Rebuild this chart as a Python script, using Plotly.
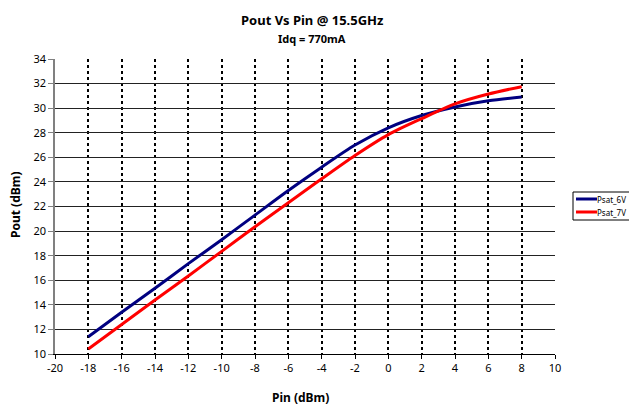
import plotly.graph_objects as go

pin = [-18, -16, -14, -12, -10, -8, -6, -4, -2, 0, 2, 4, 6, 8]
psat_6v = [11.4, 13.4, 15.35, 17.35, 19.3, 21.3, 23.3, 25.2, 27.0, 28.4, 29.4, 30.1, 30.6, 30.9]
psat_7v = [10.4, 12.4, 14.4, 16.35, 18.35, 20.35, 22.3, 24.25, 26.15, 27.85, 29.15, 30.35, 31.15, 31.75]
series_names = ["Psat_6V", "Psat_7V"]
series_colors = ["#000080", "#FF0000"]

x_ticks = list(range(-20, 11, 2))
y_ticks = list(range(10, 35, 2))

title1 = "Pout Vs Pin @ 15.5GHz"
title2 = "Idq = 770mA"
x_title = "Pin (dBm)"
y_title = "Pout (dBm)"

# page body has an 8px default margin; build figure in shifted coordinates
OFF = 8
W, H = 637 - OFF, 408 - OFF
L, R, T, B = 55 - OFF, W - (555 - OFF), 59 - OFF, H - (354 - OFF)
pw, ph = W - L - R, H - T - B

def px(xs):
    return (xs - OFF - L) / pw

def py(ys):
    return (H - B - (ys - OFF)) / ph

fig = go.Figure()
for name, vals, col in zip(series_names, [psat_6v, psat_7v], series_colors):
    fig.add_trace(go.Scatter(x=pin, y=vals, mode="lines", name=name,
                             line=dict(color=col, width=3, shape="spline", smoothing=0.8)))

font = "Noto Sans"

shapes = [dict(type="rect", xref="paper", yref="paper",
               x0=px(573), x1=px(636), y0=py(220), y1=py(192),
               line=dict(color="black", width=1), fillcolor="white", layer="above")]
annotations = [
    dict(text="<b>" + title1 + "</b>", x=px(312), y=py(20), xref="paper", yref="paper",
         showarrow=False, font=dict(size=13, family=font), xanchor="center", yanchor="middle"),
    dict(text="<b>" + title2 + "</b>", x=px(312), y=py(39), xref="paper", yref="paper",
         showarrow=False, font=dict(size=11, family=font), xanchor="center", yanchor="middle"),
    dict(text="<b>" + x_title + "</b>", x=px(300), y=py(397), xref="paper", yref="paper",
         showarrow=False, font=dict(size=12, family=font), xanchor="center", yanchor="middle"),
    dict(text="<b>" + y_title + "</b>", x=px(15), y=py(205), xref="paper", yref="paper",
         showarrow=False, font=dict(size=12, family=font), textangle=-90,
         xanchor="center", yanchor="middle"),
]
for i, (name, col) in enumerate(zip(series_names, series_colors)):
    yy = 199 + i * 13
    shapes.append(dict(type="line", xref="paper", yref="paper",
                       x0=px(576), x1=px(597), y0=py(yy), y1=py(yy),
                       line=dict(color=col, width=3), layer="above"))
    annotations.append(dict(text=name, x=px(597), y=py(yy), xref="paper", yref="paper",
                            showarrow=False, font=dict(size=8, family=font),
                            xanchor="left", yanchor="middle", xshift=-2))

fig.update_layout(
    width=W, height=H,
    margin=dict(l=L, r=R, t=T, b=B, autoexpand=False),
    paper_bgcolor="white", plot_bgcolor="white",
    font=dict(family=font, size=11, color="black"),
    showlegend=False,
    xaxis=dict(range=[-20, 10], tickvals=x_ticks, ticktext=[str(v) for v in x_ticks],
               showgrid=True, gridcolor="black", griddash="dot", gridwidth=1.5,
               showline=True, linecolor="black", linewidth=1,
               ticks="outside", ticklen=4, tickcolor="black",
               zeroline=False, fixedrange=True, tickfont=dict(size=11)),
    yaxis=dict(range=[10, 34], tickvals=y_ticks, ticktext=[str(v) for v in y_ticks],
               showgrid=True, gridcolor="#222222", gridwidth=1,
               showline=True, linecolor="#808080", linewidth=1.5,
               ticks="outside", ticklen=5, tickcolor="#808080",
               zeroline=False, fixedrange=True, tickfont=dict(size=11)),
    shapes=shapes,
    annotations=annotations,
)

fig.write_html("out.html")
